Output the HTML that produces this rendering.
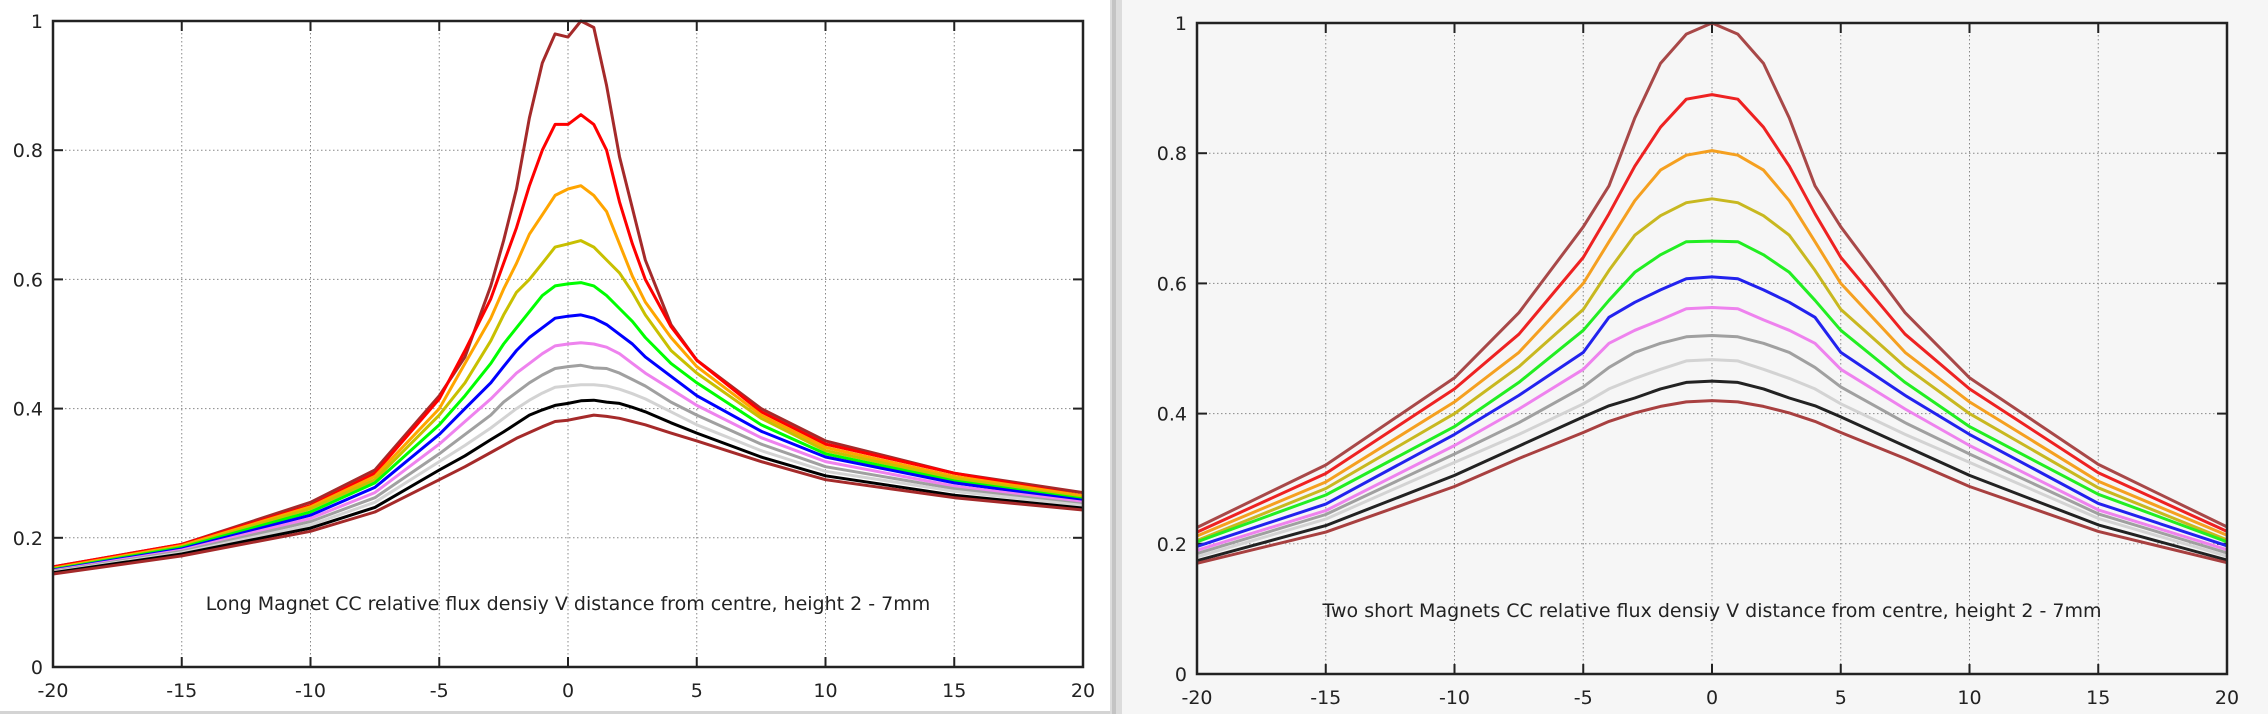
<!DOCTYPE html>
<html><head><meta charset="utf-8"><style>
html,body{margin:0;padding:0;}
body{width:2268px;height:714px;position:relative;overflow:hidden;background:#fff;font-family:"DejaVu Sans","Liberation Sans",sans-serif;}
svg{position:absolute;left:0;top:0;}
</style></head><body>
<svg id="chart" width="2268" height="714" xmlns="http://www.w3.org/2000/svg">
<rect x="0" y="0" width="1110" height="714" fill="#ffffff"/>
<rect x="0" y="711" width="1110" height="3" fill="#d4d4d4"/>
<rect x="1110" y="0" width="12" height="714" fill="#dcdcdc"/>
<rect x="1112" y="0" width="4" height="714" fill="#c4c4c4"/>
<rect x="1122" y="0" width="1146" height="714" fill="#f6f6f6"/>
<g id="left"></g>
<g id="right"></g>
</svg>
<script>
const xTicks = [-20,-15,-10,-5,0,5,10,15,20];
const yTicks = [0,0.2,0.4,0.6,0.8,1];
const yTickLabels = ["0","0.2","0.4","0.6","0.8","1"];

const leftX = [-20,-15,-10,-7.5,-5,-4,-3,-2.5,-2,-1.5,-1,-0.5,0,0.5,1,1.5,2,2.5,3,4,5,7.5,10,15,20];
const leftTop = [.155,.19,.255,.305,.42,.48,.59,.66,.74,.85,.935,.98,.975,1.0,.99,.90,.79,.71,.63,.53,.475,.40,.35,.30,.27];
const leftRed = [.155,.19,.25,.30,.415,.49,.57,.625,.68,.745,.80,.84,.84,.855,.84,.80,.72,.655,.60,.527,.475,.395,.345,.30,.265];
const leftOrange = [.153,.188,.248,.295,.40,.47,.54,.585,.625,.67,.70,.73,.74,.745,.73,.705,.655,.605,.565,.51,.465,.39,.34,.295,.265];
const leftYellow = [.152,.186,.245,.29,.39,.44,.505,.545,.58,.60,.625,.65,.655,.66,.65,.63,.61,.58,.545,.49,.455,.385,.335,.292,.262];
const leftGreen = [.151,.185,.24,.285,.375,.42,.47,.50,.525,.55,.575,.59,.593,.595,.59,.575,.555,.535,.51,.47,.44,.375,.33,.288,.26];
const leftBlue = [.15,.183,.235,.278,.36,.40,.44,.465,.49,.51,.525,.54,.543,.545,.54,.53,.515,.50,.48,.45,.42,.365,.325,.285,.258];
const leftViolet = [.149,.181,.23,.27,.345,.38,.415,.435,.455,.47,.485,.497,.50,.502,.50,.495,.485,.47,.455,.43,.405,.355,.318,.28,.255];
const leftDarkGray = [.148,.179,.225,.262,.33,.36,.39,.41,.425,.44,.452,.462,.465,.467,.463,.462,.455,.445,.435,.41,.39,.345,.31,.276,.252];
const leftLightGray = [.147,.177,.22,.255,.318,.343,.37,.385,.40,.413,.424,.433,.435,.437,.437,.435,.43,.423,.415,.395,.375,.335,.303,.272,.25];
const leftBlack = [.146,.175,.215,.247,.305,.327,.352,.364,.377,.39,.398,.405,.408,.412,.413,.41,.408,.402,.395,.378,.362,.325,.296,.266,.246];
const leftBottom = [.144,.172,.21,.24,.29,.31,.332,.343,.354,.363,.372,.38,.382,.386,.39,.388,.385,.38,.375,.362,.35,.318,.29,.262,.243];

const rightX = [-20,-15,-10,-7.5,-5,-4,-3,-2,-1,0,1,2,3,4,5,7.5,10,15,20];
const rightTop = [.225,.321,.455,.555,.687,.75,.854,.938,.983,1.0,.983,.938,.854,.75,.687,.555,.455,.322,.226];
const rightRed = [.218,.308,.438,.522,.64,.707,.78,.84,.883,.89,.883,.84,.78,.707,.64,.522,.438,.309,.219];
const rightOrange = [.212,.295,.418,.494,.60,.664,.727,.774,.797,.804,.797,.774,.727,.664,.60,.494,.418,.296,.213];
const rightYellow = [.205,.285,.40,.472,.56,.62,.674,.704,.724,.73,.724,.704,.674,.62,.56,.472,.40,.286,.206];
const rightGreen = [.203,.275,.38,.448,.528,.574,.617,.644,.664,.665,.664,.644,.617,.574,.528,.448,.38,.276,.203];
const rightBlue = [.196,.261,.368,.428,.494,.548,.571,.59,.607,.61,.607,.59,.571,.548,.494,.428,.368,.262,.197];
const rightViolet = [.19,.251,.351,.407,.468,.508,.528,.544,.561,.563,.561,.544,.528,.508,.468,.407,.351,.252,.191];
const rightDarkGray = [.185,.245,.338,.386,.441,.471,.494,.508,.518,.52,.518,.508,.494,.471,.441,.386,.338,.246,.186];
const rightLightGray = [.18,.238,.325,.368,.415,.438,.454,.468,.481,.483,.481,.468,.454,.438,.415,.368,.325,.239,.181];
const rightBlack = [.174,.228,.305,.35,.395,.412,.424,.438,.448,.45,.448,.438,.424,.412,.395,.35,.305,.229,.175];
const rightBottom = [.17,.218,.288,.331,.371,.388,.401,.411,.418,.42,.418,.411,.401,.388,.371,.331,.288,.219,.171];

const NS = "http://www.w3.org/2000/svg";
function mk(tag, attrs, parent){const e=document.createElementNS(NS,tag);for(const k in attrs)e.setAttribute(k,attrs[k]);parent.appendChild(e);return e;}

function drawChart(g, box, xs, series, colors, names, title, titleY, font){
  const sx = v => box.x0 + (v+20)/40*(box.x1-box.x0);
  const sy = v => box.y1 - v*(box.y1-box.y0);
  xTicks.forEach((t,i)=>{
    if(i>0 && i<xTicks.length-1){
      const gl = mk('line',{x1:sx(t),x2:sx(t),y1:box.y0,y2:box.y1,stroke:'#888','stroke-width':1,'stroke-dasharray':'1.5,2.5'},g);
      
      
      mk('line',{x1:sx(t),x2:sx(t),y1:box.y1,y2:box.y1-10,stroke:'#222','stroke-width':2},g);
      mk('line',{x1:sx(t),x2:sx(t),y1:box.y0,y2:box.y0+10,stroke:'#222','stroke-width':2},g);
    }
    const lb = mk('text',{x:sx(t),y:box.y1+30,'text-anchor':'middle','font-size':font,fill:'#222'},g);
    lb.textContent = String(t);
    
    
  });
  yTicks.forEach((t,i)=>{
    if(i>0 && i<yTicks.length-1){
      const gl = mk('line',{x1:box.x0,x2:box.x1,y1:sy(t),y2:sy(t),stroke:'#888','stroke-width':1,'stroke-dasharray':'1.5,2.5'},g);
      
      
      mk('line',{x1:box.x0,x2:box.x0+10,y1:sy(t),y2:sy(t),stroke:'#222','stroke-width':2},g);
      mk('line',{x1:box.x1,x2:box.x1-10,y1:sy(t),y2:sy(t),stroke:'#222','stroke-width':2},g);
    }
    const lb = mk('text',{x:box.x0-10,y:sy(t)+7,'text-anchor':'end','font-size':font,fill:'#222'},g);
    lb.textContent = yTickLabels[i];
    
    
  });
  series.forEach((s,k)=>{
    const d = s.map((v,i)=>(i?'L':'M')+sx(xs[i]).toFixed(1)+','+sy(v).toFixed(1)).join(' ');
    const p = mk('path',{d:d,fill:'none',stroke:colors[k],'stroke-width':3,'stroke-linejoin':'round'},g);
    
    
  });
  const fr = mk('rect',{x:box.x0,y:box.y0,width:box.x1-box.x0,height:box.y1-box.y0,fill:'none',stroke:'#222','stroke-width':2.5},g);
  
  
  const tt = mk('text',{x:(box.x0+box.x1)/2,y:titleY,'text-anchor':'middle','font-size':font,fill:'#222'},g);
  tt.textContent = title;
  
  
}
const names = ['series-height-2mm','series-height-2-5mm','series-height-3mm','series-height-3-5mm','series-height-4mm','series-height-4-5mm','series-height-5mm','series-height-5-5mm','series-height-6mm','series-height-6-5mm','series-height-7mm'];
drawChart(document.getElementById('left'),{x0:53,x1:1083,y0:21,y1:667},leftX,
  [leftTop,leftRed,leftOrange,leftYellow,leftGreen,leftBlue,leftViolet,leftDarkGray,leftLightGray,leftBlack,leftBottom],
  ['#a52a2a','#ff0000','#ffa500','#c8c000','#00ff00','#0000ff','#ee82ee','#a0a0a0','#d3d3d3','#000000','#a52a2a'],names,
  'Long Magnet CC relative flux densiy V distance from centre, height 2 - 7mm',610,19);
drawChart(document.getElementById('right'),{x0:1197,x1:2227,y0:23,y1:674},rightX,
  [rightTop,rightRed,rightOrange,rightYellow,rightGreen,rightBlue,rightViolet,rightDarkGray,rightLightGray,rightBlack,rightBottom],
  ['#a84848','#ee2222','#f5a020','#c8b820','#22ee22','#2222ee','#ee82ee','#a0a0a0','#d3d3d3','#222222','#a84040'],names,
  'Two short Magnets CC relative flux densiy V distance from centre, height 2 - 7mm',617,19);
</script>
</body></html>
